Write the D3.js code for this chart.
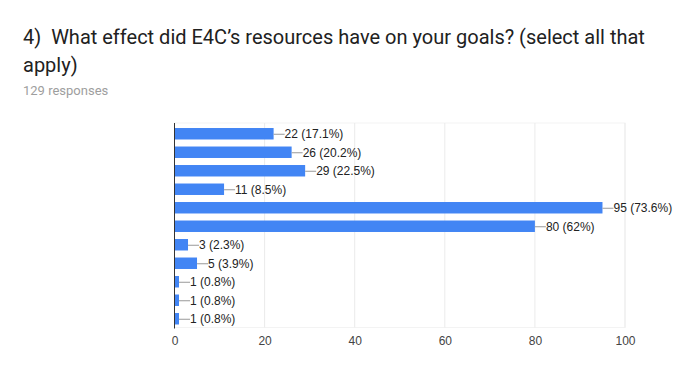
<!DOCTYPE html>
<html>
<head>
<meta charset="utf-8">
<script src="https://cdn.jsdelivr.net/npm/d3@7"></script>
<style>
  body { margin: 0; background: #fff; font-family: Roboto, Arial, sans-serif; }
</style>
</head>
<body>
<div id="main"></div>
<script>
// chart data
var titleLines = ["4)  What effect did E4C\u2019s resources have on your goals? (select all that", "apply)"];
var subtitle = "129 responses";
var categories = ["c1","c2","c3","c4","c5","c6","c7","c8","c9","c10","c11"];
var counts = [22, 26, 29, 11, 95, 80, 3, 5, 1, 1, 1];
var percents = ["17.1%", "20.2%", "22.5%", "8.5%", "73.6%", "62%", "2.3%", "3.9%", "0.8%", "0.8%", "0.8%"];
var xTicks = [0, 20, 40, 60, 80, 100];

var width = 695, height = 388;
var chartFont = '"Liberation Sans", Arial, sans-serif';

var svg = d3.select('#main').append('svg')
  .attr('width', width).attr('height', height);

// title
var title = svg.append('text')
  .attr('x', 23).attr('y', 44)
  .style('font-size', '20px').style('fill', '#212121')
  .style('white-space', 'pre');
title.selectAll('tspan').data(titleLines).enter().append('tspan')
  .attr('x', 23).attr('dy', function(d, i){ return i === 0 ? 0 : 28; })
  .text(function(d){ return d; });

svg.append('text').attr('x', 23).attr('y', 95)
  .style('font-size', '13px').style('fill', '#9e9e9e')
  .text(subtitle);

// scales
var xScale = d3.scaleLinear().domain([0, 100]).range([174.5, 625]);
var yScale = d3.scaleBand().domain(categories).range([124.5, 328]).paddingInner(0.38).paddingOuter(0.19);
var plotTop = 123, plotBottom = 327.5;

// plot frame and gridlines
svg.append('rect')
  .attr('x', xScale(0)).attr('y', plotTop)
  .attr('width', xScale(100) - xScale(0)).attr('height', plotBottom - plotTop)
  .attr('fill', 'none').attr('stroke', '#f3f3f3').attr('stroke-width', 1);

svg.append('g').selectAll('line').data(xTicks.slice(1))
  .enter().append('line')
  .attr('x1', function(d){ return xScale(d); }).attr('x2', function(d){ return xScale(d); })
  .attr('y1', plotTop).attr('y2', plotBottom)
  .attr('stroke', '#ebebeb').attr('stroke-width', 1);

// bars
svg.append('g').selectAll('rect').data(counts)
  .enter().append('rect')
  .attr('x', xScale(0))
  .attr('y', function(d, i){ return yScale(categories[i]); })
  .attr('width', function(d){ return xScale(d) - xScale(0); })
  .attr('height', yScale.bandwidth())
  .attr('fill', '#4285f4');

// value labels with leader line
var labels = svg.append('g').selectAll('g').data(counts).enter().append('g')
  .attr('transform', function(d, i){
    return 'translate(' + xScale(d) + ',' + (yScale(categories[i]) + yScale.bandwidth() / 2) + ')';
  });
labels.append('line').attr('x1', 0).attr('x2', 11).attr('y1', 0.5).attr('y2', 0.5)
  .attr('stroke', '#999').attr('stroke-width', 1);
labels.append('text').attr('x', 11).attr('y', 4.5)
  .style('font-size', '12px').style('fill', '#222').style('font-family', chartFont)
  .text(function(d, i){ return d + ' (' + percents[i] + ')'; });

// baseline axis
svg.append('line')
  .attr('x1', xScale(0)).attr('x2', xScale(0)).attr('y1', plotTop).attr('y2', plotBottom + 1)
  .attr('stroke', '#333').attr('stroke-width', 1);

// x axis labels
var xAxis = d3.axisBottom(xScale).tickValues(xTicks).tickSize(0).tickPadding(0);
var gx = svg.append('g').attr('transform', 'translate(0,' + 336 + ')').call(xAxis);
gx.select('.domain').remove();
gx.selectAll('text').style('font-size', '12px').style('fill', '#444')
  .style('font-family', chartFont).attr('dy', '0.71em');
</script>
</body>
</html>
